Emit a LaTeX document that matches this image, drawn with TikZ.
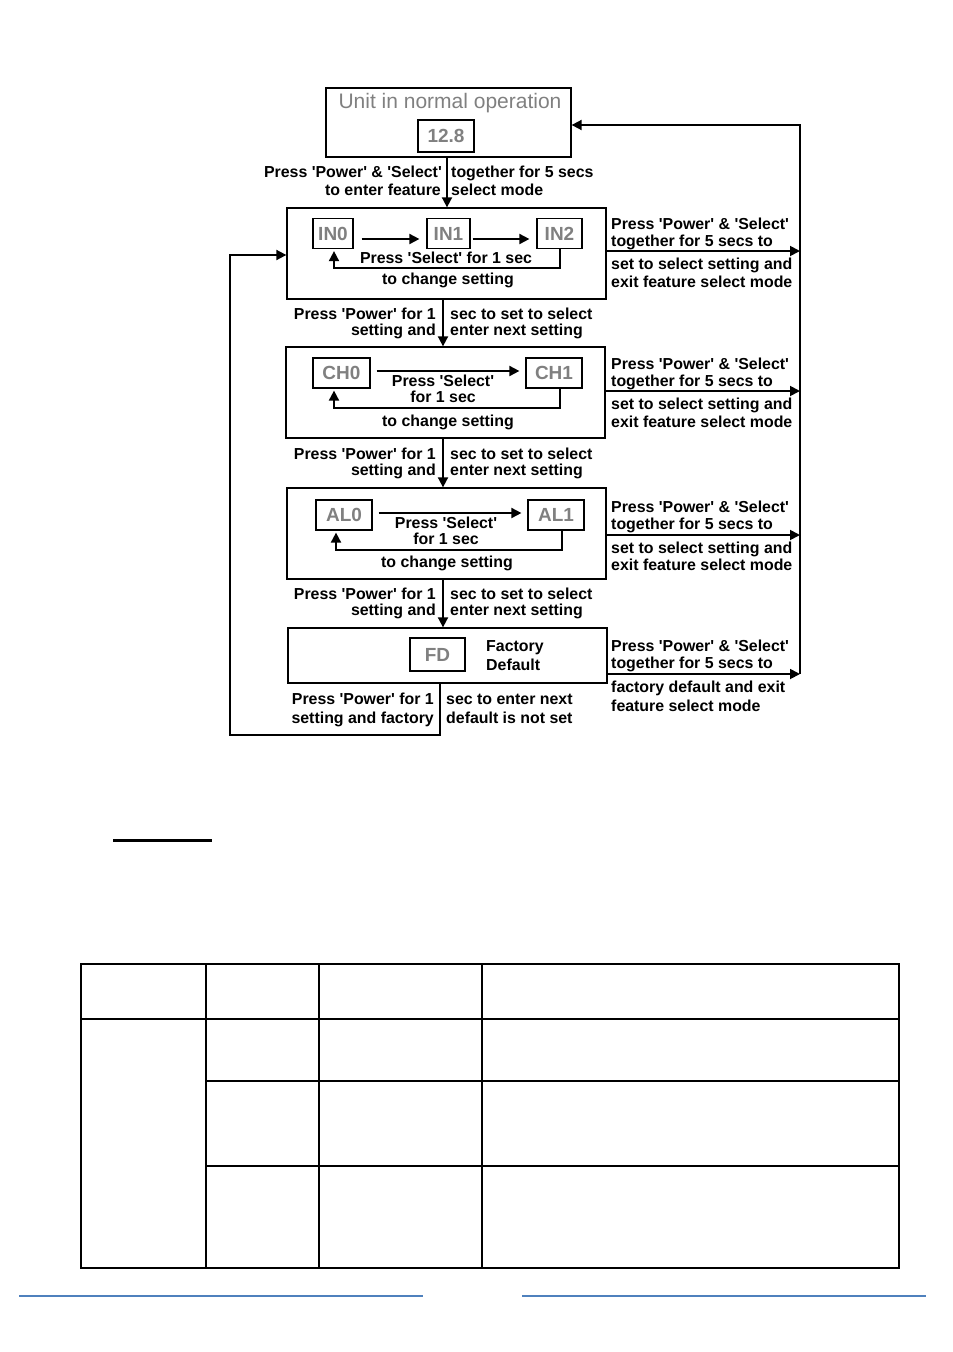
\documentclass[tikz,border=0pt]{standalone}
\usepackage{fontspec}
\setmainfont{Liberation Sans}
\usetikzlibrary{arrows.meta}
\definecolor{txtgray}{RGB}{128,128,128}
\definecolor{ruleblue}{RGB}{79,129,189}
\newcommand{\q}{\textquotesingle}
\begin{document}
\begin{tikzpicture}[x=1pt,y=-1pt,
  lbl/.style={inner sep=0pt, yshift=-2.5pt, font=\fontsize{15.9}{17}\selectfont\bfseries},
  lw/.style={lbl, anchor=mid west},
  le/.style={lbl, anchor=mid east},
  lc/.style={lbl, anchor=mid},
  bigbox/.style={draw, line width=1.3pt, inner sep=0pt, minimum width=319pt},
  gbox/.style={draw, line width=1.2pt, inner sep=0pt, minimum height=30pt, text=txtgray, font=\fontsize{19}{22}\selectfont\bfseries},
  conn/.style={line width=1.8pt},
  arr/.style={conn, -{Triangle[length=10pt,width=10pt]}},
  tline/.style={line width=1.4pt}
]
\useasboundingbox (0,0) rectangle (953,1352);

% ---------- top box
\node[draw, line width=1.3pt, minimum width=245pt, minimum height=69pt, inner sep=0pt] (top) at (448.5,122.5) {};
\node[inner sep=0pt, text=txtgray, font=\fontsize{21}{24}\selectfont] (toptxt) at (450,103) {Unit in normal operation};
\node[gbox, minimum width=56pt, minimum height=32pt] (disp) at (446,136) {12.8};

% ---------- box 1
\node[bigbox, minimum height=91pt] (b1) at (446.5,253.5) {};
\node[gbox, minimum width=40pt] (in0) at (333,233.5) {IN0};
\node[gbox, minimum width=43pt] (in1) at (448.5,233.5) {IN1};
\node[gbox, minimum width=45pt] (in2) at (559.5,233.5) {IN2};
\draw[arr, shorten <=8pt, shorten >=7pt] ([yshift=-5.5pt]in0.east) -- ([yshift=-5.5pt]in1.west);
\draw[arr, shorten <=2pt, shorten >=7pt] ([yshift=-5.5pt]in1.east) -- ([yshift=-5.5pt]in2.west);
\draw[arr] (in2.south -| 560,0) -- (560,268) -- (334,268) -- ([yshift=-2pt]in0.south -| 334,0);
\node[lc] (s1a) at (446,258) {Press \q Select\q\ for 1 sec};
\node[lc] (s1b) at (448,279) {to change setting};

% ---------- box 2
\node[bigbox, minimum height=91pt] (b2) at (445.5,392.5) {};
\node[gbox, minimum width=57pt] (ch0) at (341.5,373) {CH0};
\node[gbox, minimum width=56pt] (ch1) at (554,373) {CH1};
\draw[arr, shorten <=6pt, shorten >=6pt] ([yshift=2pt]ch0.east) -- ([yshift=2pt]ch1.west);
\draw[arr] (ch1.south -| 560,0) -- (560,408) -- (334,408) -- ([yshift=-2pt]ch0.south -| 334,0);
\node[lc] (s2a) at (443,381) {Press \q Select\q};
\node[lc] (s2b) at (443,397) {for 1 sec};
\node[lc] (s2c) at (448,421) {to change setting};

% ---------- box 3
\node[bigbox, minimum height=91pt] (b3) at (446.5,533.5) {};
\node[gbox, minimum width=56pt] (al0) at (344,515) {AL0};
\node[gbox, minimum width=56pt] (al1) at (556,515) {AL1};
\draw[arr, shorten <=6pt, shorten >=6pt] ([yshift=2pt]al0.east) -- ([yshift=2pt]al1.west);
\draw[arr] (al1.south -| 562,0) -- (562,550) -- (336,550) -- ([yshift=-2pt]al0.south -| 336,0);
\node[lc] (s3a) at (446,523) {Press \q Select\q};
\node[lc] (s3b) at (446,539) {for 1 sec};
\node[lc] (s3c) at (447,562) {to change setting};

% ---------- box 4
\node[bigbox, minimum height=55pt] (b4) at (447.5,655.5) {};
\node[gbox, minimum width=55pt, minimum height=33pt] (fd) at (437.5,654.5) {FD};
\node[lw] (fa) at (486,646) {Factory};
\node[lw] (fb) at (486,665) {Default};

% ---------- main flow
\draw[arr] (top.south -| 447,0) -- (b1.north -| 447,0);
\node[le] at (442,172) {Press \q Power\q\ \& \q Select\q};
\node[lw] at (451,172) {together for 5 secs};
\node[le] at (441,190) {to enter feature};
\node[lw] at (451,190) {select mode};

\draw[arr] (b1.south -| 443,0) -- (b2.north -| 443,0);
\node[le] at (436,314) {Press \q Power\q\ for 1};
\node[lw] at (450,314) {sec to set to select};
\node[le] at (436,330) {setting and};
\node[lw] at (450,330) {enter next setting};

\draw[arr] (b2.south -| 443,0) -- (b3.north -| 443,0);
\node[le] at (436,454) {Press \q Power\q\ for 1};
\node[lw] at (450,454) {sec to set to select};
\node[le] at (436,470) {setting and};
\node[lw] at (450,470) {enter next setting};

\draw[arr] (b3.south -| 443,0) -- (b4.north -| 443,0);
\node[le] at (436,594) {Press \q Power\q\ for 1};
\node[lw] at (450,594) {sec to set to select};
\node[le] at (436,610) {setting and};
\node[lw] at (450,610) {enter next setting};

% loop back from box 4 to box 1
\draw[arr] (b4.south -| 440,0) -- (440,735) -- (230,735) -- (230,255) -- (b1.west |- 0,255);
\node[le] at (434,699) {Press \q Power\q\ for 1};
\node[lw] at (446,699) {sec to enter next};
\node[le] at (434,718) {setting and factory};
\node[lw] at (446,718) {default is not set};

% ---------- right side exits
\coordinate (r1) at (800,251);
\coordinate (r2) at (800,391);
\coordinate (r3) at (800,535);
\coordinate (r4) at (800,674);
\coordinate (rt) at (800,125);
\draw[arr] (r4) -- (rt) -- (top.east |- rt);
\draw[arr] (b1.east |- r1) -- (r1);
\draw[arr] (b2.east |- r2) -- (r2);
\draw[arr] (b3.east |- r3) -- (r3);
\draw[arr] (b4.east |- r4) -- (r4);

\node[lw] at (611,224) {Press \q Power\q\ \& \q Select\q};
\node[lw] at (611,241) {together for 5 secs to};
\node[lw] at (611,264) {set to select setting and};
\node[lw] at (611,282) {exit feature select mode};

\node[lw] at (611,364) {Press \q Power\q\ \& \q Select\q};
\node[lw] at (611,381) {together for 5 secs to};
\node[lw] at (611,404) {set to select setting and};
\node[lw] at (611,422) {exit feature select mode};

\node[lw] at (611,507) {Press \q Power\q\ \& \q Select\q};
\node[lw] at (611,524) {together for 5 secs to};
\node[lw] at (611,548) {set to select setting and};
\node[lw] at (611,565) {exit feature select mode};

\node[lw] at (611,646) {Press \q Power\q\ \& \q Select\q};
\node[lw] at (611,663) {together for 5 secs to};
\node[lw] at (611,687) {factory default and exit};
\node[lw] at (611,706) {feature select mode};

% ---------- heading rule
\draw[line width=3pt] (113,840) -- (212,840);

% ---------- table
\draw[tline] (81,964) rectangle (899,1268);
\draw[tline] (206,964) -- (206,1268);
\draw[tline] (319,964) -- (319,1268);
\draw[tline] (482,964) -- (482,1268);
\draw[tline] (81,1019) -- (899,1019);
\draw[tline] (206,1081) -- (899,1081);
\draw[tline] (206,1166) -- (899,1166);

% ---------- footer rules
\draw[ruleblue, line width=1.2pt] (19,1296) -- (423,1296);
\draw[ruleblue, line width=1.2pt] (522,1296) -- (926,1296);
\end{tikzpicture}
\end{document}
